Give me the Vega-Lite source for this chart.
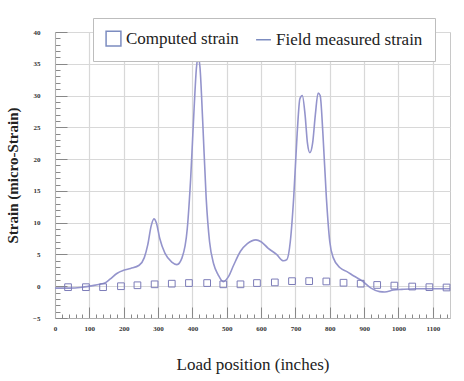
{
  "$schema": "https://vega.github.io/schema/vega-lite/v6.json",
  "width": 395,
  "height": 286,
  "autosize": {"type": "none"},
  "padding": {"left": 55, "top": 32, "right": 14, "bottom": 63},
  "background": "white",
  "config": {
    "view": {"stroke": "#c8c8c8", "strokeWidth": 1},
    "font": "Liberation Serif",
    "axis": {"titleFont": "Liberation Serif", "labelFont": "Liberation Serif"},
    "legend": {"labelFont": "Liberation Serif", "titleFont": "Liberation Serif"}
  },
  "data": {
    "values": [
      {"x": 0, "y": -0.3, "series": "Field measured strain"},
      {"x": 40, "y": -0.3, "series": "Field measured strain"},
      {"x": 80, "y": -0.15, "series": "Field measured strain"},
      {"x": 110, "y": 0.1, "series": "Field measured strain"},
      {"x": 130, "y": 0.3, "series": "Field measured strain"},
      {"x": 145, "y": 0.5, "series": "Field measured strain"},
      {"x": 160, "y": 1.1, "series": "Field measured strain"},
      {"x": 180, "y": 2.0, "series": "Field measured strain"},
      {"x": 200, "y": 2.5, "series": "Field measured strain"},
      {"x": 220, "y": 2.8, "series": "Field measured strain"},
      {"x": 245, "y": 3.3, "series": "Field measured strain"},
      {"x": 260, "y": 4.5, "series": "Field measured strain"},
      {"x": 270, "y": 6.5, "series": "Field measured strain"},
      {"x": 280, "y": 9.5, "series": "Field measured strain"},
      {"x": 288, "y": 10.6, "series": "Field measured strain"},
      {"x": 295, "y": 10.0, "series": "Field measured strain"},
      {"x": 305, "y": 7.5, "series": "Field measured strain"},
      {"x": 320, "y": 5.2, "series": "Field measured strain"},
      {"x": 340, "y": 3.8, "series": "Field measured strain"},
      {"x": 355, "y": 3.4, "series": "Field measured strain"},
      {"x": 370, "y": 4.5, "series": "Field measured strain"},
      {"x": 385, "y": 9, "series": "Field measured strain"},
      {"x": 395, "y": 17, "series": "Field measured strain"},
      {"x": 405, "y": 28, "series": "Field measured strain"},
      {"x": 412, "y": 34.5, "series": "Field measured strain"},
      {"x": 417, "y": 36, "series": "Field measured strain"},
      {"x": 422, "y": 34.5, "series": "Field measured strain"},
      {"x": 430, "y": 26, "series": "Field measured strain"},
      {"x": 440, "y": 14, "series": "Field measured strain"},
      {"x": 450, "y": 7, "series": "Field measured strain"},
      {"x": 462, "y": 3.5, "series": "Field measured strain"},
      {"x": 475, "y": 1.8, "series": "Field measured strain"},
      {"x": 490, "y": 0.7, "series": "Field measured strain"},
      {"x": 505, "y": 1.5, "series": "Field measured strain"},
      {"x": 520, "y": 3.3, "series": "Field measured strain"},
      {"x": 540, "y": 5.5, "series": "Field measured strain"},
      {"x": 560, "y": 6.7, "series": "Field measured strain"},
      {"x": 585, "y": 7.3, "series": "Field measured strain"},
      {"x": 600, "y": 7.0, "series": "Field measured strain"},
      {"x": 620, "y": 6.0, "series": "Field measured strain"},
      {"x": 645, "y": 5.0, "series": "Field measured strain"},
      {"x": 665, "y": 4.0, "series": "Field measured strain"},
      {"x": 675, "y": 4.2, "series": "Field measured strain"},
      {"x": 685, "y": 7, "series": "Field measured strain"},
      {"x": 695, "y": 14, "series": "Field measured strain"},
      {"x": 705, "y": 24, "series": "Field measured strain"},
      {"x": 713, "y": 29.5, "series": "Field measured strain"},
      {"x": 720, "y": 30, "series": "Field measured strain"},
      {"x": 728, "y": 27, "series": "Field measured strain"},
      {"x": 735, "y": 22.5, "series": "Field measured strain"},
      {"x": 742, "y": 21, "series": "Field measured strain"},
      {"x": 750, "y": 22.5, "series": "Field measured strain"},
      {"x": 758, "y": 27, "series": "Field measured strain"},
      {"x": 766, "y": 30.4, "series": "Field measured strain"},
      {"x": 772, "y": 30, "series": "Field measured strain"},
      {"x": 780, "y": 24, "series": "Field measured strain"},
      {"x": 790, "y": 14, "series": "Field measured strain"},
      {"x": 800, "y": 7, "series": "Field measured strain"},
      {"x": 810, "y": 4.5, "series": "Field measured strain"},
      {"x": 830, "y": 2.9, "series": "Field measured strain"},
      {"x": 850, "y": 2.3, "series": "Field measured strain"},
      {"x": 870, "y": 1.6, "series": "Field measured strain"},
      {"x": 895, "y": 0.8, "series": "Field measured strain"},
      {"x": 920, "y": -0.3, "series": "Field measured strain"},
      {"x": 945, "y": -0.85, "series": "Field measured strain"},
      {"x": 960, "y": -0.9, "series": "Field measured strain"},
      {"x": 985, "y": -0.6, "series": "Field measured strain"},
      {"x": 1010, "y": -0.5, "series": "Field measured strain"},
      {"x": 1050, "y": -0.4, "series": "Field measured strain"},
      {"x": 1100, "y": -0.4, "series": "Field measured strain"},
      {"x": 1150, "y": -0.4, "series": "Field measured strain"},
      {"x": 38, "y": -0.15, "series": "Computed strain"},
      {"x": 90, "y": -0.15, "series": "Computed strain"},
      {"x": 140, "y": -0.15, "series": "Computed strain"},
      {"x": 192, "y": 0, "series": "Computed strain"},
      {"x": 240, "y": 0.15, "series": "Computed strain"},
      {"x": 290, "y": 0.3, "series": "Computed strain"},
      {"x": 340, "y": 0.4, "series": "Computed strain"},
      {"x": 390, "y": 0.5, "series": "Computed strain"},
      {"x": 443, "y": 0.5, "series": "Computed strain"},
      {"x": 490, "y": 0.3, "series": "Computed strain"},
      {"x": 540, "y": 0.3, "series": "Computed strain"},
      {"x": 588, "y": 0.5, "series": "Computed strain"},
      {"x": 640, "y": 0.6, "series": "Computed strain"},
      {"x": 690, "y": 0.8, "series": "Computed strain"},
      {"x": 740, "y": 0.8, "series": "Computed strain"},
      {"x": 790, "y": 0.75, "series": "Computed strain"},
      {"x": 840, "y": 0.55, "series": "Computed strain"},
      {"x": 890, "y": 0.4, "series": "Computed strain"},
      {"x": 938, "y": 0.2, "series": "Computed strain"},
      {"x": 988, "y": 0.1, "series": "Computed strain"},
      {"x": 1040, "y": -0.05, "series": "Computed strain"},
      {"x": 1090, "y": -0.15, "series": "Computed strain"},
      {"x": 1140, "y": -0.2, "series": "Computed strain"}
    ]
  },
  "encoding": {
    "x": {
      "field": "x",
      "type": "quantitative",
      "scale": {"domain": [0, 1150], "nice": false, "zero": false},
      "axis": {
        "title": "Load position (inches)",
        "titleFont": "Liberation Serif",
        "titleFontSize": 17,
        "titleFontWeight": "normal",
        "titleColor": "#222",
        "titlePadding": 18,
        "format": "d",
        "values": [0,20,40,60,80,100,120,140,160,180,200,220,240,260,280,300,320,340,360,380,400,420,440,460,480,500,520,540,560,580,600,620,640,660,680,700,720,740,760,780,800,820,840,860,880,900,920,940,960,980,1000,1020,1040,1060,1080,1100,1120,1140],
        "labelExpr": "datum.value % 100 === 0 ? datum.label : ''",
        "labelFont": "Liberation Serif",
        "labelFontWeight": "bold",
        "labelFontSize": 7,
        "labelColor": "#333",
        "labelPadding": 17,
        "labelFlush": false,
        "labelOverlap": false,
        "domainColor": "#b0b0b0",
        "tickColor": "#888",
        "tickSize": {"condition": {"test": "datum.value % 100 === 0", "value": -11}, "value": -4},
        "grid": true,
        "gridColor": "#d8d8d8",
        "gridWidth": 1.2,
        "gridOpacity": {"condition": {"test": "datum.value % 100 === 0", "value": 1}, "value": 0}
      }
    },
    "y": {
      "field": "y",
      "type": "quantitative",
      "scale": {"domain": [-5, 40], "nice": false, "zero": false},
      "axis": {
        "title": "Strain (micro-Strain)",
        "titleFont": "Liberation Serif",
        "titleFontSize": 15,
        "titleFontWeight": "bold",
        "titleColor": "#222",
        "titlePadding": 12,
        "values": [-5,-4,-3,-2,-1,0,1,2,3,4,5,6,7,8,9,10,11,12,13,14,15,16,17,18,19,20,21,22,23,24,25,26,27,28,29,30,31,32,33,34,35,36,37,38,39,40],
        "labelExpr": "datum.value % 5 === 0 ? datum.label : ''",
        "labelFont": "Liberation Serif",
        "labelFontWeight": "bold",
        "labelFontSize": 7,
        "labelColor": "#333",
        "labelPadding": 27,
        "labelFlush": false,
        "labelOverlap": false,
        "domainColor": "#b0b0b0",
        "tickColor": "#888",
        "tickSize": {"condition": {"test": "datum.value % 5 === 0", "value": -12}, "value": -5},
        "grid": true,
        "gridColor": "#d8d8d8",
        "gridWidth": 1.2,
        "gridOpacity": {"condition": {"test": "datum.value % 5 === 0", "value": 1}, "value": 0}
      }
    }
  },
  "layer": [
    {
      "transform": [{"filter": "datum.series === 'Field measured strain'"}],
      "mark": {"type": "line", "interpolate": "monotone", "color": "#9494cc", "strokeWidth": 1.6},
      "encoding": {}
    },
    {
      "transform": [{"filter": "datum.series === 'Computed strain'"}],
      "mark": {"type": "point", "filled": false, "color": "#7c7cb8", "size": 45, "strokeWidth": 1, "opacity": 1},
      "encoding": {
        "shape": {
          "field": "series",
          "type": "nominal",
          "scale": {"domain": ["Computed strain", "Field measured strain"], "range": ["square", "stroke"]},
          "legend": {
            "title": null,
            "orient": "none",
            "legendX": 38,
            "legendY": -14,
            "direction": "horizontal",
            "fillColor": "white",
            "strokeColor": "#bdbdbd",
            "padding": 12,
            "symbolSize": 220,
            "symbolStrokeWidth": 1.5,
            "symbolStrokeColor": "#7c8cc0",
            "symbolFillColor": "transparent",
            "labelFont": "Liberation Serif",
            "labelFontSize": 17,
            "labelColor": "#222",
            "labelOffset": 4,
            "columnPadding": 14,
            "labelLimit": 300
          }
        }
      }
    }
  ]
}
